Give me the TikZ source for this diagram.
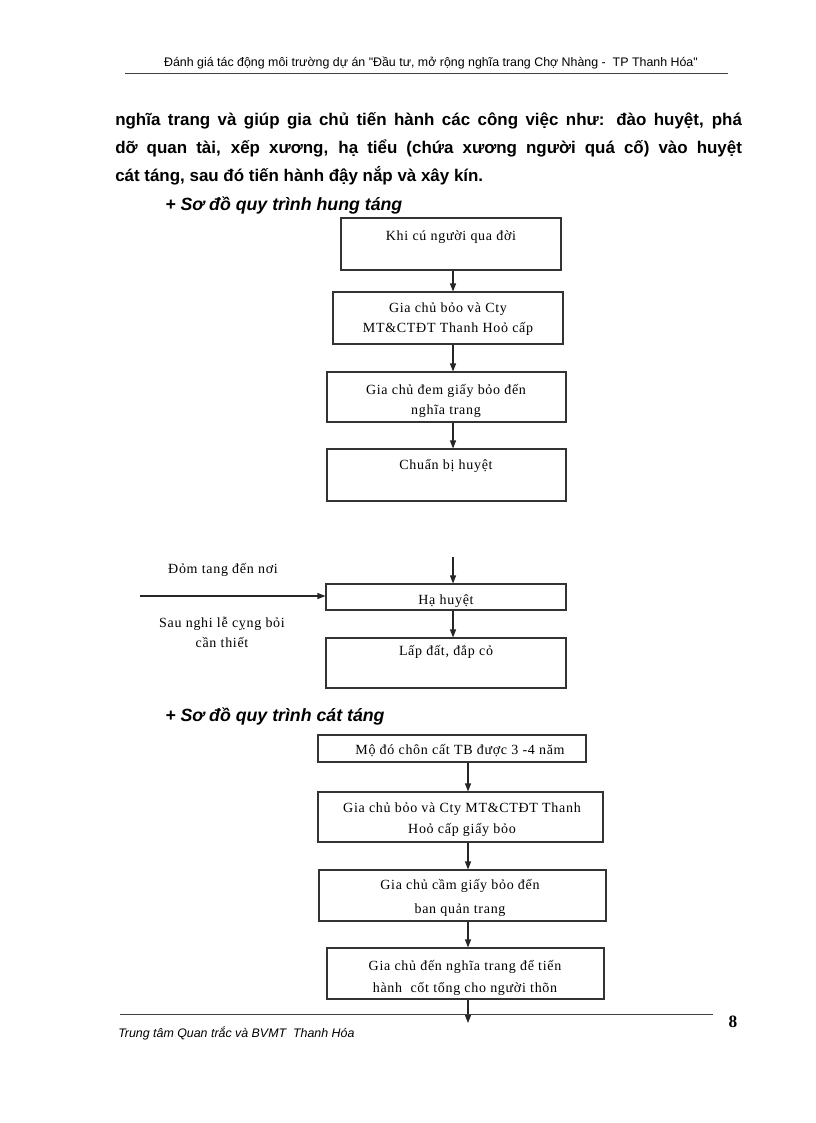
\documentclass[tikz,border=0pt]{standalone}
\usepackage{fontspec}
\setmainfont{Liberation Serif}
\newfontfamily\arial{Liberation Sans}
\newfontfamily\boxfont{Liberation Serif}[LetterSpace=5]
\usetikzlibrary{arrows.meta}
\begin{document}
\begin{tikzpicture}[x=0.75pt,y=-0.75pt,
  box/.style={draw=black!80, line width=0.8pt, inner sep=0pt},
  bt/.style={inner sep=0pt, anchor=base, font=\boxfont\fontsize{10.5}{14}\selectfont},
  lbl/.style={inner sep=0pt, anchor=base, font=\boxfont\fontsize{10.5}{14}\selectfont},
  arr/.style={draw=black!85, line width=0.8pt, -{Triangle[length=6pt,width=4.5pt]}},
  para/.style={inner sep=0pt, anchor=base west, font=\arial\bfseries\fontsize{12.7}{21}\selectfont},
  head/.style={inner sep=0pt, anchor=base west, font=\arial\bfseries\itshape\fontsize{13.3}{21}\selectfont},
  rule/.style={draw=black!75, line width=0.6pt}
]
\useasboundingbox[fill=white] (0,0) rectangle (816,1123);

% page header
\node[inner sep=0pt, anchor=base, font=\arial\fontsize{9.3}{11}\selectfont] (hdr) at (431,67)
  {Đánh giá tác động môi trường dự án "Đầu tư, mở rộng nghĩa trang Chợ Nhàng -\ \ TP Thanh Hóa"};
\coordinate (hl) at (125,73);
\coordinate (hr) at (728,73);
\draw[rule] (hl) -- (hr);

% paragraph
\node[para] (p1) at (115,126) {\makebox[470pt][s]{nghĩa trang và giúp gia chủ tiến hành các công việc như: đào huyệt, phá}};
\node[para] (p2) at (115,154) {\makebox[470pt][s]{dỡ quan tài, xếp xương, hạ tiểu (chứa xương người quá cố) vào huyệt}};
\node[para] (p3) at (115,182) {cát táng, sau đó tiến hành đậy nắp và xây kín.};
\node[head] (h1) at (165,210) {+ Sơ đồ quy trình hung táng};

% flowchart 1
\node[box, minimum width=165pt, minimum height=39pt] (b1) at (451,244) {};
\node[box, minimum width=172.5pt, minimum height=39pt] (b2) at (448,318) {};
\node[box, minimum width=179.25pt, minimum height=37.5pt] (b3) at (446.5,397) {};
\node[box, minimum width=179.25pt, minimum height=39pt] (b4) at (446.5,475) {};
\node[box, minimum width=180pt, minimum height=19.5pt] (b5) at (446,597) {};
\node[box, minimum width=180pt, minimum height=37.5pt] (b6) at (446,663) {};

\node[bt] (t1) at (451,240) {Khi cú người qua đời};
\node[bt] (t2) at (448,312) {\begin{tabular}[t]{@{}c@{}}Gia chủ bỏo và Cty\\[1pt]MT\&CTĐT Thanh Hoỏ cấp\end{tabular}};
\node[bt] (t3) at (446,394) {\begin{tabular}[t]{@{}c@{}}Gia chủ đem giấy bỏo đến\\[1pt]nghĩa trang\end{tabular}};
\node[bt] (t4) at (446,469) {Chuẩn bị huyệt};
\node[bt] (t5) at (446,604) {Hạ huyệt};
\node[bt] (t6) at (446,655) {Lấp đất, đắp cỏ};

\coordinate (a1) at (453,0);
\draw[arr] (b1.south -| a1) -- (b2.north -| a1);
\draw[arr] (b2.south -| a1) -- (b3.north -| a1);
\draw[arr] (b3.south -| a1) -- (b4.north -| a1);
\coordinate (s5) at (453,557);
\draw[arr] (s5) -- (b5.north -| s5);
\draw[arr] (b5.south -| a1) -- (b6.north -| a1);

\coordinate (in5) at (140,596);
\draw[arr] (in5) -- (b5.west |- in5);
\node[lbl] (l1) at (223,573) {Đỏm tang đến nơi};
\node[lbl] (l2) at (222,627) {\begin{tabular}[t]{@{}c@{}}Sau nghi lễ cỵng bỏi\\[1pt]cần thiết\end{tabular}};

% flowchart 2
\node[head] (h2) at (165,721) {+ Sơ đồ quy trình cát táng};

\node[box, minimum width=201pt, minimum height=20.25pt] (b7) at (452,748.5) {};
\node[box, minimum width=213.75pt, minimum height=37.5pt] (b8) at (460.5,817) {};
\node[box, minimum width=215.25pt, minimum height=38.25pt] (b9) at (462.5,895.5) {};
\node[box, minimum width=207.75pt, minimum height=38.25pt] (b10) at (465.5,973.5) {};

\node[bt] (t7) at (460,754) {Mộ đó chôn cất TB được 3 -4 năm};
\node[bt] (t8) at (462,812) {\begin{tabular}[t]{@{}c@{}}Gia chủ bỏo và Cty MT\&CTĐT Thanh\\[2pt]Hoỏ cấp giấy bỏo\end{tabular}};
\node[bt] (t9) at (460,889) {\begin{tabular}[t]{@{}c@{}}Gia chủ cầm giấy bỏo đến\\[4pt]ban quản trang\end{tabular}};
\node[bt] (t10) at (465,970) {\begin{tabular}[t]{@{}c@{}}Gia chủ đến nghĩa trang để tiến\\[3pt]hành\ \ cốt tổng cho người thõn\end{tabular}};

\coordinate (a2) at (468,0);
\draw[arr] (b7.south -| a2) -- (b8.north -| a2);
\draw[arr] (b8.south -| a2) -- (b9.north -| a2);
\draw[arr] (b9.south -| a2) -- (b10.north -| a2);
\coordinate (e10) at (468,1023);
\draw[arr] (b10.south -| a2) -- (e10);

% footer
\coordinate (fl) at (120,1014);
\coordinate (fr) at (713,1014);
\draw[rule] (fl) -- (fr);
\node[inner sep=0pt, anchor=base, font=\bfseries\fontsize{13}{15}\selectfont] (pg) at (733,1027) {8};
\node[inner sep=0pt, anchor=base west, font=\arial\itshape\fontsize{9.3}{11}\selectfont] (ftr) at (118,1037) {Trung tâm Quan trắc và BVMT\ \ Thanh Hóa};
\end{tikzpicture}
\end{document}
